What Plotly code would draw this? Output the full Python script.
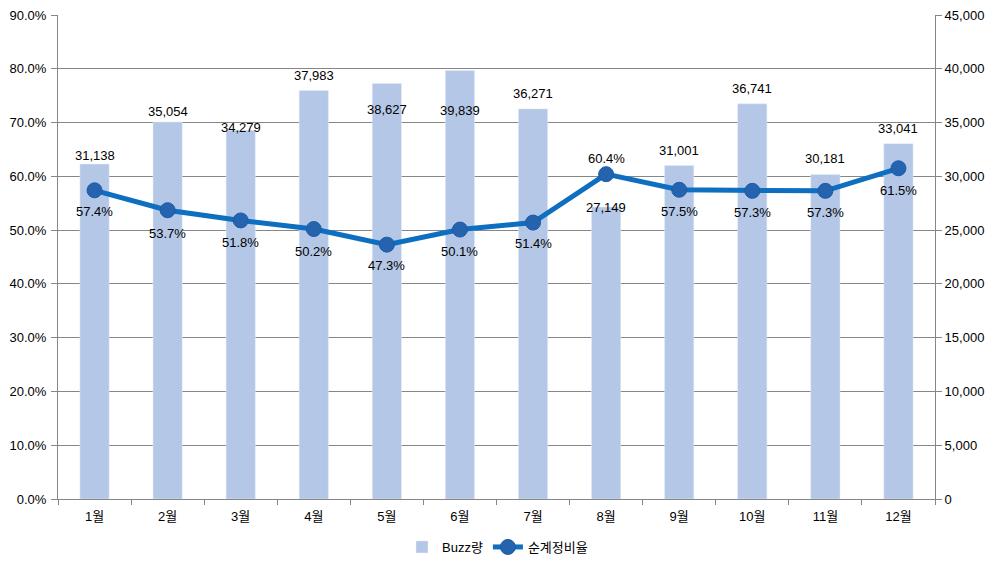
import plotly.graph_objects as go

months = ["1월", "2월", "3월", "4월", "5월", "6월", "7월", "8월", "9월", "10월", "11월", "12월"]
buzz = [31138, 35054, 34279, 37983, 38627, 39839, 36271, 27149, 31001, 36741, 30181, 33041]
ratio = [57.4, 53.7, 51.8, 50.2, 47.3, 50.1, 51.4, 60.4, 57.5, 57.3, 57.3, 61.5]

# label offsets in pixels (style only)
buzz_shift = [9, 10, 3, 15, -26, -40, 15, 0, 15, 15, 16, 15]
ratio_shift = [-21, -23, -22, -22, -21, -22, -21, 16, -22, -22, -22, -22]

FONT = "Liberation Sans, Arial, Noto Sans CJK KR, sans-serif"
GRID = "#868686"

fig = go.Figure()
fig.add_trace(go.Bar(
    x=months, y=buzz, name="Buzz량", marker_color="#B4C7E7",
    width=0.4, yaxis="y",
))
fig.add_trace(go.Scatter(
    x=months, y=ratio, name="순계정비율", mode="lines+markers", yaxis="y2",
    line=dict(color="#0E6EBF", width=5),
    marker=dict(size=15, color="#2563AF", line=dict(color="#1A5CA8", width=1)),
))

ann = []
for m, v, s in zip(months, buzz, buzz_shift):
    ann.append(dict(x=m, y=v, xref="x", yref="y", text=f"{v:,}", showarrow=False,
                    yanchor="middle", yshift=s, font=dict(size=13, color="black", family=FONT)))
for m, v, s in zip(months, ratio, ratio_shift):
    ann.append(dict(x=m, y=v, xref="x", yref="y2", text=f"{v:.1f}%", showarrow=False,
                    yanchor="middle", yshift=s, font=dict(size=13, color="black", family=FONT)))

fig.update_layout(
    width=995, height=565,
    margin=dict(l=58, r=60, t=15, b=66),
    plot_bgcolor="white", paper_bgcolor="white",
    font=dict(family=FONT, size=13, color="black"),
    bargap=0.6,
    annotations=ann,
    xaxis=dict(
        range=[-0.5, 11.5], automargin=False,
        showline=True, linecolor=GRID, linewidth=1,
        ticks="outside", tickson="boundaries", ticklen=5, tickcolor=GRID,
        ticklabelstandoff=5,
        showgrid=False, tickfont=dict(size=13),
    ),
    yaxis=dict(
        side="right", range=[0, 45000], dtick=5000, tickformat=",",
        showline=True, linecolor=GRID, ticks="outside", ticklen=6, tickcolor=GRID,
        showgrid=True, gridcolor=GRID, gridwidth=1, zeroline=False,
        tickfont=dict(size=13), automargin=False,
    ),
    yaxis2=dict(
        side="left", overlaying="y", range=[0, 90], dtick=10, ticksuffix="%",
        tickformat=".1f", automargin=False,
        showline=True, linecolor=GRID, ticks="outside", ticklen=6, tickcolor=GRID,
        ticklabelstandoff=2,
        showgrid=False, zeroline=False, tickfont=dict(size=13),
    ),
    legend=dict(orientation="h", x=0.5, xanchor="center", xref="container",
                y=18 / 565, yanchor="middle", yref="container",
                font=dict(size=13), traceorder="normal"),
    showlegend=True,
)

fig.write_html("out.html")
